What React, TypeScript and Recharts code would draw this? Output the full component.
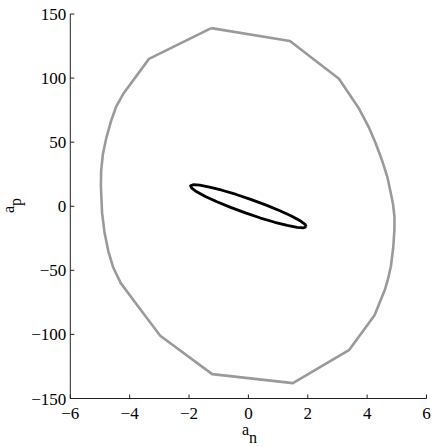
import React from 'react';
import { LineChart, Line, XAxis, YAxis } from 'recharts';

// outer (gray) contour, clockwise from the top
const outerX = [-1.25, 1.4, 3.05, 3.73, 4.05, 4.29, 4.5, 4.68, 4.8, 4.87, 4.92, 4.92, 4.88, 4.8, 4.7, 4.6, 4.25, 3.4, 1.5, -1.22, -2.97, -3.75, -4.3, -4.55, -4.72, -4.85, -4.93, -4.97, -4.96, -4.9, -4.78, -4.62, -4.45, -4.22, -3.35, -1.25];
const outerY = [139, 129, 99.5, 76, 62, 49, 36, 23, 10, 2, -8, -18, -32, -47, -57, -65, -85, -112, -138, -131, -101, -77, -60, -48, -35, -20, -5, 16, 28, 41, 54, 67, 78, 87.5, 115, 139];

// inner (black) contour
const innerX = [1.95, 1.91, 1.74, 1.45, 1.06, 0.6, 0.1, -0.41, -0.89, -1.31, -1.64, -1.86, -1.95, -1.91, -1.74, -1.45, -1.06, -0.6, -0.1, 0.41, 0.89, 1.31, 1.64, 1.86, 1.95];
const innerY = [-16, -14.1, -11.3, -7.6, -3.5, 0.9, 5.2, 9.2, 12.5, 15.0, 16.5, 16.8, 16, 14.1, 11.3, 7.6, 3.5, -0.9, -5.2, -9.2, -12.5, -15.0, -16.5, -16.8, -16];

const xTicks = [-6, -4, -2, 0, 2, 4, 6];
const yTicks = [-150, -100, -50, 0, 50, 100, 150];

const outerData = outerX.map((x, i) => ({ x, y: outerY[i] }));
const innerData = innerX.map((x, i) => ({ x, y: innerY[i] }));

const fmt = (v: number) => String(v).replace('-', '\u2212');
const font = 'Liberation Serif';
const axisColor = '#222';
const noTick = () => <g />;

const App = () => {
  return (
    <div style={{ position: 'absolute', left: 0, top: 0, width: 436, height: 447, background: '#fff' }}>
      <LineChart width={436} height={447} margin={{ top: 14, right: 9.5, left: 10, bottom: 18.5 }}>
        <XAxis
          type="number"
          dataKey="x"
          xAxisId="b"
          domain={[-6, 6]}
          ticks={xTicks}
          allowDataOverflow
          height={30}
          stroke={axisColor}
          tickSize={-4}
          tickMargin={12}
          tickFormatter={fmt}
          tick={{ fill: '#000', fontSize: 17, fontFamily: font }}
        />
        <XAxis
          type="number"
          dataKey="x"
          xAxisId="t"
          orientation="top"
          domain={[-6, 6]}
          ticks={xTicks}
          allowDataOverflow
          height={0}
          stroke={axisColor}
          tickSize={-4}
          tick={noTick}
        />
        <YAxis
          type="number"
          dataKey="y"
          yAxisId="l"
          domain={[-150, 150]}
          ticks={yTicks}
          allowDataOverflow
          width={60.3}
          stroke={axisColor}
          tickSize={-4}
          tickMargin={8}
          tickFormatter={fmt}
          tick={{ fill: '#000', fontSize: 17, fontFamily: font }}
        />
        <YAxis
          type="number"
          dataKey="y"
          yAxisId="r"
          orientation="right"
          domain={[-150, 150]}
          ticks={yTicks}
          allowDataOverflow
          width={0}
          stroke={axisColor}
          tickSize={-4}
          tick={noTick}
        />
        <Line
          xAxisId="b"
          yAxisId="l"
          data={outerData}
          dataKey="y"
          type="linear"
          stroke="#9a9a9a"
          strokeWidth={2.6}
          strokeLinejoin="round"
          dot={false}
          activeDot={false}
          isAnimationActive={false}
        />
        <Line
          xAxisId="b"
          yAxisId="l"
          data={innerData}
          dataKey="y"
          type="linear"
          stroke="#000"
          strokeWidth={2.8}
          strokeLinejoin="round"
          dot={false}
          activeDot={false}
          isAnimationActive={false}
        />
      </LineChart>
      {/* axis labels with subscripts */}
      <svg width={436} height={447} style={{ position: 'absolute', left: 0, top: 0, pointerEvents: 'none' }}>
        <text x={242} y={435} fontFamily={font} fontSize={16} fill="#000">
          a<tspan dy={8}>n</tspan>
        </text>
        <text x={14} y={213} fontFamily={font} fontSize={16} fill="#000" transform="rotate(-90 14 213)">
          a<tspan dy={7}>p</tspan>
        </text>
      </svg>
    </div>
  );
};

export default App;
